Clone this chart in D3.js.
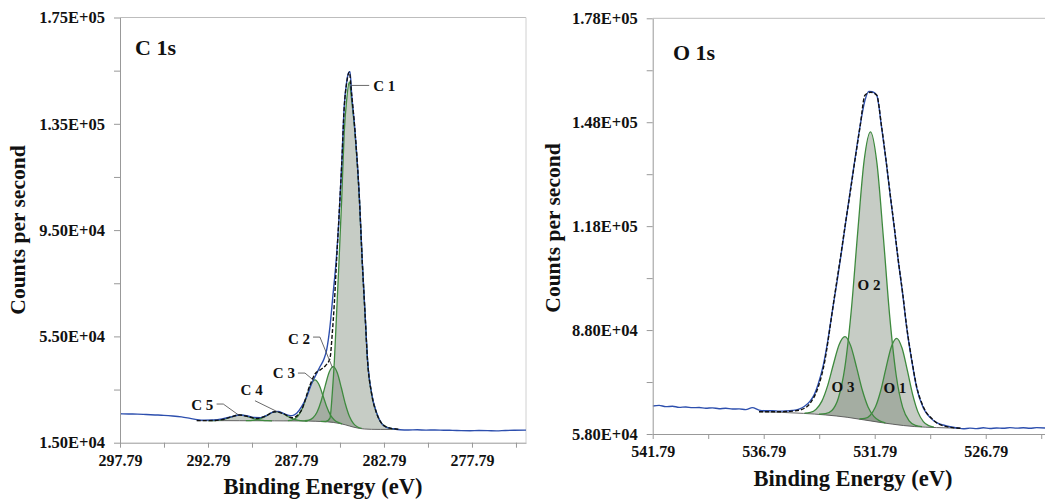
<!DOCTYPE html>
<html>
<head>
<meta charset="utf-8">
<script src="https://cdn.jsdelivr.net/npm/d3@7"></script>
<style>
  body { margin: 0; background: #fff; }
  text { font-family: "Liberation Serif", "Times New Roman", serif; font-weight: bold; fill: #111; }
</style>
</head>
<body>
<div id="chart"></div>
<script>
// ---------- C 1s data (binding energy eV, counts per second) ----------
const cXTicks = [297.79, 292.79, 287.79, 282.79, 277.79];
const cXMinor = [295.29, 290.29, 285.29, 280.29, 275.29];
const cYTicks = [15000, 55000, 95000, 135000, 175000];
const cYLabels = ['1.50E+04', '5.50E+04', '9.50E+04', '1.35E+05', '1.75E+05'];
const cYMinor = [35000, 75000, 115000, 155000];

const cRaw = [[297.79,25900],[297.3,25800],[296.8,25750],[296.3,25600],[295.8,25450],[295.3,25300],
  [294.8,25050],[294.3,24700],[293.8,24150],[293.4,23700],[293.0,23500],[292.5,23550],[292.0,23900],
  [291.5,24700],[291.0,25400],[290.6,25150],[290.2,24500],[289.8,24450],[289.4,25400],[289.1,26500],
  [288.8,26800],[288.5,26000],[288.2,25300],[288.0,25200],[287.75,26050],[287.47,28540],[287.18,32300],
  [286.9,37330],[286.71,39820],[286.43,43580],[286.2,46500],[286.05,49860],[285.86,58620],[285.69,70500],
  [285.5,84000],[285.35,99000],[285.19,120000],[285.05,141500],[284.91,150800],[284.8,154200],
  [284.72,154600],[284.63,146500],[284.44,132500],[284.19,107500],[284.02,82800],[283.87,64300],
  [283.72,45800],[283.49,33500],[283.2,26100],[282.9,22000],[282.6,20700],[282.3,20300],[281.88,19900],
  [281.4,19800],[280.9,19850],[280.4,19750],[279.9,19800],[279.4,19700],[278.9,19650],[278.4,19550],
  [277.9,19500],[277.4,19600],[276.9,19550],[276.4,19450],[275.9,19600],[275.4,19700],[274.72,19750]];

const cEnvelope = [[293.43,23300],[292.5,23340],[292.0,23680],[291.5,24640],[291.0,25430],[290.5,24805],
  [290.0,24100],[289.5,25100],[289.0,26650],[288.5,25900],[288.0,24400],[287.5,27020],[287.0,36570],
  [286.71,40890],[286.4,42470],[286.1,44090],[285.86,46690],[285.73,55920],[285.61,67570],[285.48,84030],
  [285.35,99630],[285.19,119990],[285.05,141020],[284.91,150300],[284.76,154460],[284.63,146220],
  [284.44,132530],[284.19,107300],[284.02,82550],[283.87,64050],[283.72,45610],[283.49,33310],
  [283.2,25940],[282.83,21630],[282.5,20590],[282.1,20150],[281.88,20000]];

const cBackground = [[293.43,23300],[292.0,23298],[291.0,23280],[290.0,23262],[289.0,23230],[288.0,23200],
  [287.2,23160],[286.7,23060],[286.4,22980],[286.0,22850],[285.67,22630],[285.3,22230],[285.0,21760],
  [284.76,21300],[284.5,20820],[284.2,20400],[283.9,20150],[283.5,20030],[283.0,20000],[281.88,20000]];

// components: [eV, background, component top]
const cPeak1 = [[286.4,22980,22990],[286.1,22890,22970],[285.86,22740,24260],[285.73,22660,33360],
  [285.61,22570,45650],[285.48,22420,64090],[285.35,22300,82530],[285.19,22060,107120],[285.05,21840,131670],
  [284.91,21590,144000],[284.76,21300,150750],[284.63,21060,143990],[284.44,20730,131650],[284.19,20390,107090],
  [284.02,20230,82490],[283.87,20140,64050],[283.72,20090,45610],[283.49,20030,33310],[283.2,20010,25940],
  [282.83,20000,21630],[282.5,20000,20590],[282.1,20000,20150]];
const cPeak2 = [[287.28,23165,23257],[287.05,23130,23508],[286.82,23090,24402],[286.59,23030,26579],
  [286.36,22970,30698],[286.13,22900,36382],[285.9,22790,41585],[285.67,22630,43630],[285.44,22420,41215],
  [285.21,22090,35572],[284.98,21730,29458],[284.75,21290,24839],[284.52,20850,22162],[284.29,20510,20888],
  [284.06,20270,20362]];
const cPeak3 = [[288.25,23205,23274],[288.03,23200,23481],[287.81,23195,24170],[287.59,23185,25821],
  [287.37,23175,28916],[287.15,23150,33165],[286.93,23110,37072],[286.71,23060,38660],[286.49,23005,36967],
  [286.27,22940,32955],[286.05,22870,28611],[285.83,22730,25366],[285.61,22580,23555],[285.39,22340,22621],
  [285.17,22030,22099]];
const cPeak4 = [[290.64,23266,23281],[290.39,23262,23325],[290.14,23258,23477],[289.89,23250,23842],
  [289.64,23244,24532],[289.39,23238,25485],[289.14,23232,26365],[288.89,23225,26725],[288.64,23218,26351],
  [288.39,23212,25459],[288.14,23207,24495],[287.89,23198,23790],[287.64,23188,23407],[287.39,23176,23239],
  [287.14,23155,23170]];
const cPeak5 = [[292.79,23299,23308],[292.53,23297,23336],[292.27,23295,23429],[292.01,23294,23661],
  [291.75,23290,24081],[291.49,23287,24667],[291.23,23283,25207],[290.97,23280,25430],[290.71,23272,25196],
  [290.45,23265,24645],[290.19,23264,24055],[289.93,23260,23623],[289.67,23254,23388],[289.41,23245,23284],
  [289.15,23236,23245]];

const cNotes = [
  { text: 'C 1', at: [283.4, 147300], anchor: 'start', leader: [[284.68,149440],[283.63,149440]] },
  { text: 'C 2', at: [286.99, 52300], anchor: 'end', leader: [[286.82,54740],[286.43,54740],[285.72,43300]] },
  { text: 'C 3', at: [287.85, 39300], anchor: 'end', leader: [[287.68,41200],[287.28,41200],[286.77,38400]] },
  { text: 'C 4', at: [290.31, 32900], anchor: 'middle', leader: [[290.12,30790],[288.8,26500]] },
  { text: 'C 5', at: [292.49, 27300], anchor: 'end', leader: [[292.3,29550],[291.92,29550],[291.07,25500]] }
];

// ---------- O 1s data ----------
const oXTicks = [541.79, 536.79, 531.79, 526.79];
const oXMinor = [539.29, 534.29, 529.29, 524.29];
const oYTicks = [58000, 88000, 118000, 148000, 178000];
const oYLabels = ['5.80E+04', '8.80E+04', '1.18E+05', '1.48E+05', '1.78E+05'];
const oYMinor = [73000, 103000, 133000, 163000];

const oRaw = [[541.79,66100],[541.5,66250],[541.2,65900],[540.9,66000],[540.6,65700],[540.3,65800],
  [540.0,65600],[539.7,65650],[539.4,65450],[539.1,65550],[538.8,65300],[538.5,65450],[538.2,65200],
  [537.9,65250],[537.6,65050],[537.3,65600],[537.0,64900],[536.7,64700],[536.4,64750],[536.1,64600],
  [535.8,64650],[535.5,64800],[535.2,65200],[534.95,66000],[534.7,67500],[534.5,69500],[534.33,72500],
  [534.1,78000],[533.9,85000],[533.7,93500],[533.5,101500],[533.3,110000],[533.1,119000],[532.9,127800],
  [532.68,137300],[532.45,146900],[532.23,154300],[532.05,156900],[531.9,156800],[531.7,155800],
  [531.48,146500],[531.28,136900],[531.1,127300],[530.91,117600],[530.73,108000],[530.53,98400],
  [530.35,88700],[530.12,79100],[529.9,71300],[529.6,65500],[529.3,62800],[529.0,61300],[528.7,60600],
  [528.4,60100],[528.1,59800],[527.8,59500],[527.5,59700],[527.2,59550],[526.9,59800],[526.6,59600],
  [526.3,59750],[526.0,59650],[525.7,59850],[525.4,59700],[525.1,59800],[524.8,59650],[524.5,59850],
  [524.12,59750]];

const oEnvelope = [[537.0,64440],[536.05,64440],[535.5,64600],[535.15,64930],[534.7,66860],[534.33,71660],
  [534.03,79360],[533.8,88980],[533.58,98620],[533.35,108230],[533.13,117850],[532.9,127500],[532.68,137100],
  [532.45,146720],[532.23,155800],[531.97,156650],[531.7,155800],[531.48,146720],[531.28,137100],
  [531.1,127500],[530.91,117850],[530.73,108230],[530.53,98620],[530.35,88980],[530.12,79360],[529.9,71660],
  [529.6,65880],[529.15,62040],[528.55,60110],[527.9,59650]];

const oBackground = [[537.0,64440],[536.0,64250],[535.0,63950],[534.0,63500],[533.0,62800],[532.5,62300],
  [532.0,61800],[531.5,61300],[531.0,60850],[530.5,60450],[530.0,60150],[529.0,59850],[527.9,59650]];

const oPeak2 = [[534.30,63635,63702],[534.01,63505,63872],[533.72,63304,64806],[533.43,63101,68317],
  [533.14,62898,76998],[532.85,62650,93360],[532.56,62360,115930],[532.27,62070,136760],[531.98,61780,145230],
  [531.69,61490,136180],[531.40,61210,114780],[531.11,60950,91660],[530.82,60706,74806],[530.53,60474,65690],
  [530.24,60294,61796],[529.95,60135,60502],[529.66,60048,60115]];
const oPeak3 = [[534.95,63928,64030],[534.69,63810,64228],[534.43,63694,65144],[534.17,63577,67498],
  [533.91,63437,71975],[533.65,63255,78149],[533.39,63073,83837],[533.13,62891,86091],[532.87,62670,83434],
  [532.61,62410,77304],[532.35,62150,70688],[532.09,61890,65811],[531.83,61630,63080],[531.57,61370,61788],
  [531.31,61129,61231]];
const oPeak1 = [[532.48,62280,62390],[532.24,62040,62489],[532.00,61800,63359],[531.76,61560,65775],
  [531.52,61320,70498],[531.28,61102,77112],[531.04,60886,83206],[530.80,60690,85630],[530.56,60498,82818],
  [530.32,60342,76352],[530.08,60198,69376],[529.84,60102,64317],[529.60,60030,61589],[529.36,59958,60407],
  [529.12,59886,59996]];

const oNotes = [
  { text: 'O 2', at: [532.05, 99600], anchor: 'middle' },
  { text: 'O 3', at: [533.22, 70100], anchor: 'middle' },
  { text: 'O 1', at: [530.88, 69800], anchor: 'middle' }
];

// ---------- drawing ----------
const width = 1045;
const height = 501;

const svg = d3.select('#chart')
  .append('svg')
  .attr('width', width)
  .attr('height', height);

function drawPanel(p) {
  const x = d3.scaleLinear().domain(p.xDomain).range(p.xRange);
  const y = d3.scaleLinear().domain(p.yDomain).range(p.yRange);
  const g = svg.append('g');

  // frame (top / right border)
  g.append('line')
    .attr('x1', p.xRange[0]).attr('x2', p.xRange[1])
    .attr('y1', p.yRange[1]).attr('y2', p.yRange[1])
    .attr('stroke', '#bdbdbd');
  if (p.rightBorder) {
    g.append('line')
      .attr('x1', p.xRange[1]).attr('x2', p.xRange[1])
      .attr('y1', p.yRange[1]).attr('y2', p.yRange[0])
      .attr('stroke', '#d0d0d0');
  }

  const clipId = 'clip-' + p.title.replace(/\s/g, '');
  svg.append('clipPath').attr('id', clipId)
    .append('rect')
    .attr('x', p.xRange[0]).attr('y', p.yRange[1])
    .attr('width', p.xRange[1] - p.xRange[0])
    .attr('height', p.yRange[0] - p.yRange[1]);

  const plot = g.append('g').attr('clip-path', `url(#${clipId})`);

  const area = d3.area()
    .x(d => x(d[0])).y0(d => y(d[1])).y1(d => y(d[2]))
    .curve(d3.curveMonotoneX);
  const topLine = d3.line()
    .x(d => x(d[0])).y(d => y(d[2]))
    .curve(d3.curveMonotoneX);
  const line = d3.line()
    .x(d => x(d[0])).y(d => y(d[1]))
    .curve(d3.curveMonotoneX);

  // component fills
  plot.selectAll('.comp-fill')
    .data(p.components)
    .enter()
    .append('path')
    .attr('class', 'comp-fill')
    .attr('d', area)
    .attr('fill', 'rgb(112,128,110)')
    .attr('fill-opacity', 0.4);

  // background
  plot.append('path')
    .attr('d', line(p.background))
    .attr('fill', 'none')
    .attr('stroke', '#555')
    .attr('stroke-width', 0.9);

  // component outlines
  plot.selectAll('.comp-line')
    .data(p.components)
    .enter()
    .append('path')
    .attr('class', 'comp-line')
    .attr('d', topLine)
    .attr('fill', 'none')
    .attr('stroke', '#3e8a3e')
    .attr('stroke-width', 1.3);

  // raw spectrum
  plot.append('path')
    .attr('d', line(p.raw))
    .attr('fill', 'none')
    .attr('stroke', '#2d4fae')
    .attr('stroke-width', 1.4);

  // fitted envelope
  plot.append('path')
    .attr('d', line(p.envelope))
    .attr('fill', 'none')
    .attr('stroke', '#111')
    .attr('stroke-width', 1.4)
    .attr('stroke-dasharray', '4,2');

  // axes
  const xAll = p.xTicks.concat(p.xMinor);
  const xAxis = d3.axisBottom(x)
    .tickValues(xAll)
    .tickSize(5)
    .tickSizeOuter(0)
    .tickPadding(7)
    .tickFormat(d => p.xTicks.includes(d) ? d.toFixed(2) : '');
  const gx = g.append('g')
    .attr('transform', `translate(0, ${p.yRange[0]})`)
    .call(xAxis);
  gx.select('.domain').attr('stroke', '#999');
  gx.selectAll('.tick line').attr('stroke', '#999');
  gx.selectAll('.tick text')
    .style('font-family', '"Liberation Serif", "Times New Roman", serif')
    .style('font-weight', 'bold')
    .style('font-size', '16px')
    .attr('fill', '#111');

  const yAll = p.yTicks.concat(p.yMinor);
  const yAxis = d3.axisLeft(y)
    .tickValues(yAll)
    .tickSize(6)
    .tickSizeOuter(0)
    .tickPadding(9)
    .tickFormat(d => {
      const i = p.yTicks.indexOf(d);
      return i >= 0 ? p.yLabels[i] : '';
    });
  const gy = g.append('g')
    .attr('transform', `translate(${p.xRange[0]}, 0)`)
    .call(yAxis);
  gy.select('.domain').attr('stroke', '#999');
  gy.selectAll('.tick line').attr('stroke', '#999');
  gy.selectAll('.tick text')
    .style('font-family', '"Liberation Serif", "Times New Roman", serif')
    .style('font-weight', 'bold')
    .style('font-size', '16.5px')
    .attr('fill', '#111');

  // axis titles
  g.append('text')
    .attr('x', p.xTitlePos[0])
    .attr('y', p.xTitlePos[1])
    .attr('text-anchor', 'middle')
    .style('font-size', '22.5px')
    .text('Binding Energy (eV)');

  g.append('text')
    .attr('transform', `translate(${p.yTitlePos[0]}, ${p.yTitlePos[1]}) rotate(-90)`)
    .attr('text-anchor', 'middle')
    .style('font-size', '21.5px')
    .text('Counts per second');

  // panel title
  g.append('text')
    .attr('x', p.titlePos[0])
    .attr('y', p.titlePos[1])
    .style('font-size', '22px')
    .text(p.title);

  // peak labels
  p.notes.forEach(n => {
    if (n.leader) {
      g.append('path')
        .attr('d', d3.line().x(d => x(d[0])).y(d => y(d[1]))(n.leader))
        .attr('fill', 'none')
        .attr('stroke', '#444')
        .attr('stroke-width', 0.8);
    }
    g.append('text')
      .attr('x', x(n.at[0]))
      .attr('y', y(n.at[1]))
      .attr('text-anchor', n.anchor)
      .style('font-size', '15px')
      .text(n.text);
  });
}

drawPanel({
  title: 'C 1s',
  xDomain: [297.79, 274.72], xRange: [120, 526],
  yDomain: [15000, 175000], yRange: [442.7, 17.5],
  xTicks: cXTicks, xMinor: cXMinor,
  yTicks: cYTicks, yLabels: cYLabels, yMinor: cYMinor,
  raw: cRaw, envelope: cEnvelope, background: cBackground,
  components: [cPeak1, cPeak2, cPeak3, cPeak4, cPeak5],
  notes: cNotes,
  rightBorder: true,
  titlePos: [135, 55],
  xTitlePos: [323, 494],
  yTitlePos: [25, 230]
});

drawPanel({
  title: 'O 1s',
  xDomain: [541.79, 524.12], xRange: [652.7, 1045],
  yDomain: [58000, 178000], yRange: [434, 18.3],
  xTicks: oXTicks, xMinor: oXMinor,
  yTicks: oYTicks, yLabels: oYLabels, yMinor: oYMinor,
  raw: oRaw, envelope: oEnvelope, background: oBackground,
  components: [oPeak2, oPeak3, oPeak1],
  notes: oNotes,
  rightBorder: false,
  titlePos: [673, 60],
  xTitlePos: [853, 486],
  yTitlePos: [560, 228]
});
</script>
</body>
</html>
